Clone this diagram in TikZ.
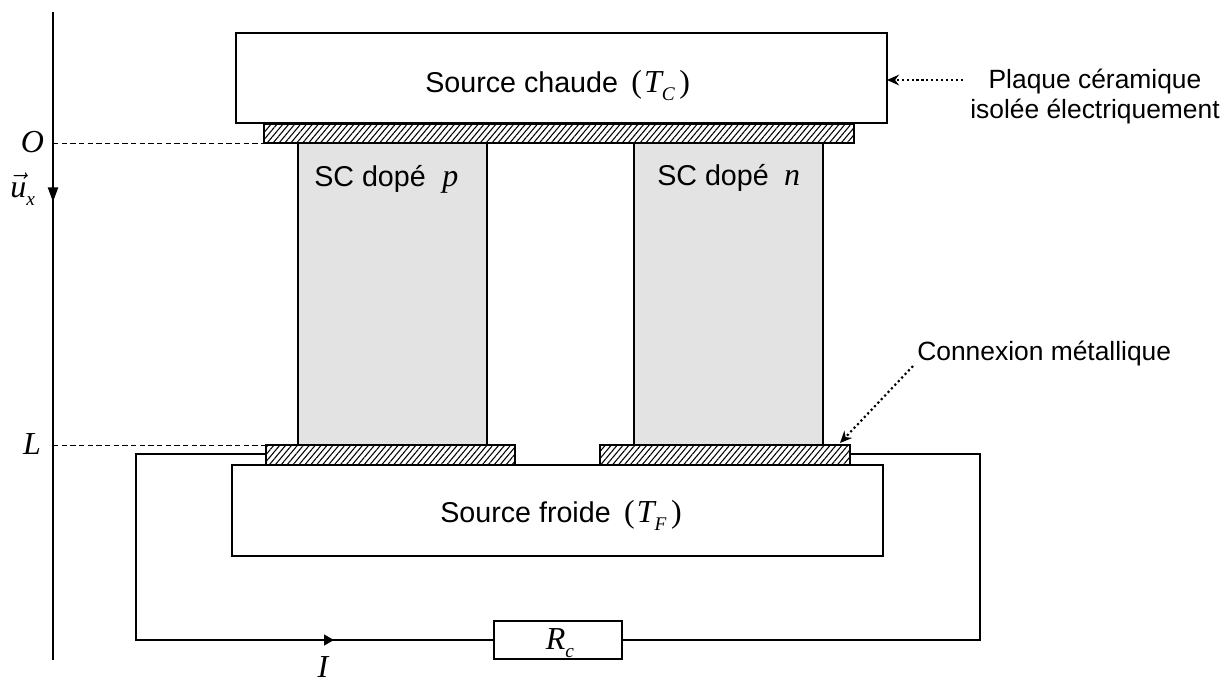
\documentclass[tikz,border=0pt]{standalone}
\usepackage{fontspec}
\setmainfont{Liberation Sans}
\newfontfamily\tms{Liberation Serif}
\usetikzlibrary{fit,arrows.meta,patterns.meta}
\newcommand{\sy}[1]{{\tms\fontsize{24}{26}\selectfont\itshape #1}}
\newcommand{\subs}[1]{\raisebox{-6pt}{\tms\fontsize{14.5}{16}\selectfont\itshape #1}}
\newcommand{\up}[1]{{\tms\fontsize{24}{26}\selectfont #1}}
\tikzset{
  x=0.75pt,y=-0.75pt,
  bx/.style={draw=black,line width=1.6pt,inner sep=0pt,outer sep=0pt},
  sc/.style={bx,fill=black!11},
  hatch/.style={bx,pattern={Lines[angle=50,distance=3.4pt,line width=0.8pt]}},
  txt/.style={inner sep=0pt,anchor=base west,font=\fontsize{21.5}{24}\selectfont},
  note/.style={inner sep=0pt,font=\fontsize{19.8}{22.5}\selectfont,align=center},
  sym/.style={inner sep=0pt},
  wire/.style={line width=1.75pt},
  guide/.style={line width=0.75pt,dash pattern=on 4pt off 2.5pt},
  dots/.style={line width=1.6pt,dash pattern=on 1.6pt off 2.1pt,-{Stealth[length=9pt,width=8pt]}}
}
\begin{document}
\begin{tikzpicture}
\useasboundingbox (0,0) rectangle (1230,687);
\fill[white] (0,0) rectangle (1230,687);
% axis
\coordinate (axtop) at (53,12);
\coordinate (axbot) at (53,660);
\coordinate (O) at (53,143);
\coordinate (Uend) at (53,202);
\coordinate (Lp) at (53,445);
\draw[line width=1pt] (axtop) -- (axbot);
\draw[line width=1.6pt,-{Triangle[length=11pt,width=7.5pt]}] (O) -- (Uend);
% circuit corners and resistor
\coordinate (cTL) at (136,454);
\coordinate (cBL) at (136,640);
\coordinate (cTR) at (980,454);
\coordinate (cBR) at (980,640);
\coordinate (cur) at (334,640);
\node[bx,fit={(494,621)(622,659)}] (res) {};
% boxes
\node[bx,fill=white,fit={(236,33)(887,123)}] (hot) {};
\node[sc,fit={(298,143)(487,445)}] (scp) {};
\node[sc,fit={(634,143)(823,445)}] (scn) {};
\node[bx,fill=white,fit={(232,465)(883,556)}] (cold) {};
\node[hatch,fit={(264,124)(854,143)}] (ht) {};
\node[hatch,fit={(266,445)(515,465)}] (hl) {};
\node[hatch,fit={(600,445)(850,465)}] (hr) {};
% wires
\draw[wire,line join=miter] (hl.west |- cTL) -- (cTL) -- (cBL) -- (cur) -- (res.west);
\draw[wire,-{Triangle[length=7.5pt,width=8pt]}] (cBL) -- (cur);
\draw[wire,line join=miter] (res.east) -- (cBR) -- (cTR) -- (hr.east |- cTR);
% guides
\draw[guide] (O) -- (ht.south west);
\draw[guide] (Lp) -- (hl.north west);
% texts
\node[txt] (thot) at (425,92) {Source chaude\hspace{10pt}\up{(}\hspace{1.5pt}\sy{T}\subs{C}\up{\hspace{3.5pt})}};
\node[txt] (tcold) at (440,522) {Source froide\hspace{10pt}\up{(}\hspace{1.5pt}\sy{T}\subs{F}\up{\hspace{3.5pt})}};
\node[txt] (tp) at (314,186) {SC dopé\hspace{12.5pt}\sy{p}};
\node[txt] (tn) at (657,185) {SC dopé\hspace{11.5pt}\sy{n}};
\node[note] (tplaque) at (1095,97) {Plaque céramique\\isolée électriquement};
\node[note,anchor=base west] (tconn) at (917,360) {Connexion métallique};
\node[sym] (tO) at (32.5,142) {\sy{O}};
\node[sym] (tL) at (32,444) {\sy{L}};
\node[sym,anchor=base] (tI) at (323,677) {\sy{I}};
\node[sym,anchor=base] (tR) at (560,649) {\sy{R}\subs{c}};
\node[sym,anchor=base west] (tu) at (10,197) {{\fontsize{24}{26}\selectfont$\vec{\mbox{\tms\itshape u}}$}\subs{x}};
% leaders
\coordinate (lp) at (963,80);
\coordinate (lc) at (913,366);
\coordinate (lt) at (840,443);
\draw[dots] (lp) -- (hot.east |- lp);
\draw[dots] (lc) -- (lt);
\end{tikzpicture}
\end{document}
